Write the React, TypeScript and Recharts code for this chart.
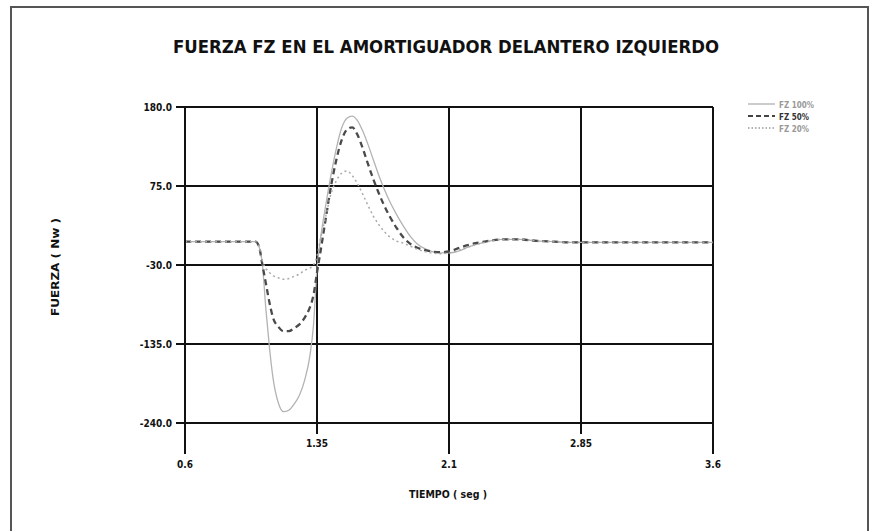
import { LineChart, Line, XAxis, YAxis, CartesianGrid } from "recharts";

const times = [
  0.6, 0.8, 1.0, 1.02, 1.04, 1.06, 1.08, 1.1, 1.13, 1.16, 1.19, 1.22, 1.25, 1.28, 1.31, 1.33, 1.35, 1.37, 1.4,
  1.43, 1.46, 1.49, 1.52, 1.55, 1.58, 1.61, 1.64, 1.67, 1.7, 1.73, 1.76, 1.8, 1.84, 1.88, 1.92, 1.96, 2.0, 2.05,
  2.1, 2.15, 2.2, 2.25, 2.3, 2.4, 2.5, 2.6, 2.7, 2.8, 3.0, 3.2, 3.4, 3.6
];

const fz100 = [
  1, 1, 1, -5, -30, -90, -140, -180, -213, -225, -223, -215, -203, -183, -150, -110, -35, 5, 50,
  90, 125, 152, 165, 168, 162, 148, 130, 110, 90, 72, 56, 38, 22, 8, -2, -8, -12, -14,
  -14, -12, -7, -3, 0, 4, 4, 2, 1, 0, 0, 0, 0, 0
];

const fz50 = [
  1, 1, 1, -5, -30, -55, -80, -100, -112, -118, -118, -114, -109, -100, -86, -70, -40, -12, 32,
  75, 110, 136, 150, 153, 143, 125, 104, 84, 66, 50, 36, 20, 7, -2, -7, -10, -12, -13,
  -12, -8, -4, -1, 1, 4, 4, 2, 1, 0, 0, 0, 0, 0
];

const fz20 = [
  1, 1, 1, -5, -25, -35, -40, -44, -47, -49, -48, -45, -42, -37, -34, -30, -18, 5, 35,
  65, 82, 92, 95, 89, 78, 64, 49, 35, 24, 15, 8, 2, -1, -5, -9, -12, -14, -15,
  -14, -11, -7, -3, 0, 4, 4, 2, 1, 0, 0, 0, 0, 0
];

const xTicks = [0.6, 1.35, 2.1, 2.85, 3.6];
const xTickLabels = ["0.6", "1.35", "2.1", "2.85", "3.6"];
const yTicks = [-240, -135, -30, 75, 180];
const yTickLabels = ["-240.0", "-135.0", "-30.0", "75.0", "180.0"];

const seriesNames = ["FZ 100%", "FZ 50%", "FZ 20%"];

const data = times.map((t, i) => ({ t, fz100: fz100[i], fz50: fz50[i], fz20: fz20[i] }));

const font = "'Liberation Sans Narrow', 'DejaVu Sans Condensed', 'Liberation Sans', sans-serif";

function XTick(props: any) {
  const { x, y, payload, index } = props;
  const low = index % 2 === 0;
  const label = xTickLabels[xTicks.indexOf(payload.value)] ?? String(payload.value);
  return (
    <g>
      <line x1={x} x2={x} y1={y} y2={y + (low ? 31 : 11)} stroke="#111" strokeWidth={2} />
      <text x={x} y={y + (low ? 45 : 24)} textAnchor="middle" fontFamily={font} fontWeight="bold" fontSize={10} fill="#111">
        {label}
      </text>
    </g>
  );
}

function YTick(props: any) {
  const { x, y, payload } = props;
  const label = yTickLabels[yTicks.indexOf(payload.value)] ?? String(payload.value);
  return (
    <g>
      <line x1={x - 9} x2={x} y1={y} y2={y} stroke="#111" strokeWidth={2} />
      <text x={x - 13} y={y + 3.5} textAnchor="end" fontFamily={font} fontWeight="bold" fontSize={10} fill="#111">
        {label}
      </text>
    </g>
  );
}

const legendStyles = [
  { stroke: "#aaa", width: 1.2, dash: undefined },
  { stroke: "#444", width: 2, dash: "5 3" },
  { stroke: "#999", width: 1.3, dash: "1.5 2" }
];

export default function App() {
  return (
    <div style={{ position: "absolute", left: 0, top: 0, width: 871, height: 531, background: "#fff", overflow: "hidden" }}>
      <div
        style={{
          position: "absolute",
          left: 10,
          top: 6,
          width: 855,
          height: 530,
          borderLeft: "2px solid #555",
          borderTop: "2px solid #555",
          borderRight: "2px solid #555"
        }}
      />
      <svg width={871} height={531} style={{ position: "absolute", left: 0, top: 0 }}>
        <text x={446} y={53} textAnchor="middle" fontFamily={font} fontWeight="bold" fontSize={18} fill="#111" textLength={546} lengthAdjust="spacingAndGlyphs">
          FUERZA FZ EN EL AMORTIGUADOR DELANTERO IZQUIERDO
        </text>
        <text x={59} y={267} textAnchor="middle" fontFamily={font} fontWeight="bold" fontSize={10} fill="#111" transform="rotate(-90 59 267)" textLength={98} lengthAdjust="spacingAndGlyphs">
          FUERZA ( Nw )
        </text>
        <text x={448} y={498} textAnchor="middle" fontFamily={font} fontWeight="bold" fontSize={10} fill="#111" textLength={78} lengthAdjust="spacingAndGlyphs">
          TIEMPO ( seg )
        </text>
        {seriesNames.map((name, i) => (
          <g key={name}>
            <line x1={748} x2={775} y1={104 + i * 12} y2={104 + i * 12} stroke={legendStyles[i].stroke} strokeWidth={legendStyles[i].width} strokeDasharray={legendStyles[i].dash} />
            <text x={779} y={107.5 + i * 12} fontFamily={font} fontWeight="bold" fontSize={8} fill={i === 1 ? "#333" : "#999"}>
              {name}
            </text>
          </g>
        ))}
      </svg>
      <div style={{ position: "absolute", left: 0, top: 0 }}>
        <LineChart width={871} height={531} data={data} margin={{ top: 107, right: 158, bottom: 48, left: 0 }}>
          <CartesianGrid stroke="#111" strokeWidth={2} />
          <XAxis
            dataKey="t"
            type="number"
            domain={[0.6, 3.6]}
            ticks={xTicks}
            tick={<XTick />}
            tickSize={0}
            tickMargin={0}
            tickLine={false}
            axisLine={{ stroke: "#111", strokeWidth: 2 }}
            height={60}
            interval={0}
          />
          <YAxis
            type="number"
            domain={[-240, 180]}
            ticks={yTicks}
            tick={<YTick />}
            tickSize={0}
            tickMargin={0}
            tickLine={false}
            axisLine={{ stroke: "#111", strokeWidth: 2 }}
            width={185}
            interval={0}
          />
          <Line type="monotone" dataKey="fz100" name={seriesNames[0]} stroke="#b3b3b3" strokeWidth={1.3} dot={false} isAnimationActive={false} />
          <Line type="monotone" dataKey="fz50" name={seriesNames[1]} stroke="#4a4a4a" strokeWidth={2.3} strokeDasharray="6 4" dot={false} isAnimationActive={false} />
          <Line type="monotone" dataKey="fz20" name={seriesNames[2]} stroke="#aaa" strokeWidth={1.5} strokeDasharray="2 3" dot={false} isAnimationActive={false} />
        </LineChart>
      </div>
    </div>
  );
}
